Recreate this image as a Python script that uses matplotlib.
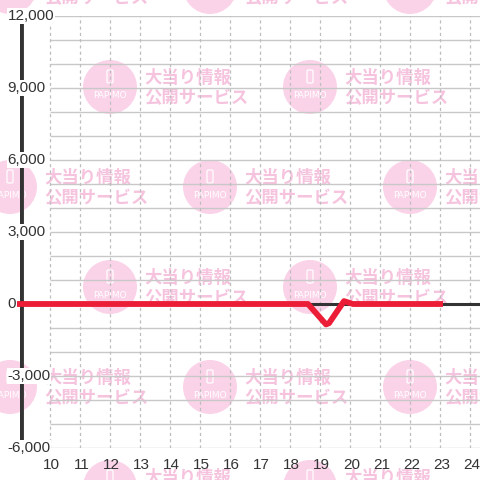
import matplotlib
matplotlib.use("Agg")
import matplotlib.pyplot as plt
from matplotlib.patches import Circle, FancyBboxPatch

plt.rcParams["font.family"] = ["Liberation Sans", "DejaVu Sans"]

# ── data ─────────────────────────────────────────────────────────────────────
game_x   = [8.9, 18.6, 19.2, 19.3, 19.8, 20.1, 23.1]
balance  = [0, 0, -850, -800, 120, 0, 0]
x_ticks  = list(range(10, 25))
y_ticks  = [-6000, -3000, 0, 3000, 6000, 9000, 12000]
y_grid   = list(range(-6000, 12001, 1000))

X_MIN, X_MAX = 9.0, 24.333
Y_MIN, Y_MAX = -6000, 12000

RED   = "#ec1d36"
DARK  = "#333333"
PINK  = "#fbd3e9"
PINKT = "#f6c3de"

fig = plt.figure(figsize=(4.8, 4.8), dpi=100)
fig.patch.set_facecolor("white")

# ── watermark layer (pixel coordinates) ──────────────────────────────────────
bg = fig.add_axes([0, 0, 1, 1], zorder=-1)
bg.set_xlim(0, 480)
bg.set_ylim(480, 0)
bg.axis("off")
for row, cy in enumerate(range(-13, 500, 100)):
    xs = [10, 210, 410] if row % 2 == 0 else [110, 310]
    for cx in xs:
        bg.add_patch(Circle((cx, cy), 27, color=PINK, lw=0))
        bg.add_patch(FancyBboxPatch((cx - 3, cy - 17), 6, 13,
                                    boxstyle="round,pad=0,rounding_size=1.5",
                                    fc="none", ec="white", lw=0.9))
        bg.text(cx, cy + 9, "PAPIMO", color="white", fontsize=6.5,
                ha="center", va="center", family="DejaVu Sans")
        bg.text(cx + 34, cy - 9, "大当り情報", color=PINKT, fontsize=12.5,
                weight="bold", ha="left", va="center",
                family=["Noto Sans CJK JP", "DejaVu Sans"])
        bg.text(cx + 34, cy + 11, "公開サービス", color=PINKT, fontsize=12.5,
                weight="bold", ha="left", va="center",
                family=["Noto Sans CJK JP", "DejaVu Sans"])

# ── chart ────────────────────────────────────────────────────────────────────
ax = fig.add_axes([20 / 480, 32 / 480, 460 / 480, 432 / 480])
ax.patch.set_alpha(0)
ax.set_xlim(X_MIN, X_MAX)
ax.set_ylim(Y_MIN, Y_MAX)
for s in ax.spines.values():
    s.set_visible(False)
ax.set_xticks([])
ax.set_yticks([])

ax.hlines(y_grid, x_ticks[0], X_MAX, color="#c8c8c8", lw=1, zorder=1)
ax.vlines(x_ticks, Y_MIN, Y_MAX, color="#bdbdbd", lw=0.9,
          linestyles=(0, (2.5, 2.5)), zorder=1)
ax.axhline(0, color=DARK, lw=2.2, zorder=2)
ax.axvline(X_MIN + 0.03, color=DARK, lw=3.5, zorder=2)

ax.plot(game_x, balance, color=RED, lw=4.2, solid_joinstyle="round",
        solid_capstyle="butt", zorder=4, clip_on=False)

for v in y_ticks:
    ax.text(X_MIN - 0.42, v, f"{v:,}", ha="left", va="center", fontsize=11,
            color=DARK, zorder=5,
            bbox=dict(fc="white", ec="none", pad=0.6))
for v in x_ticks:
    ax.text(v + 0.05, Y_MIN - 400, str(v), ha="center", va="top",
            fontsize=11, color=DARK, zorder=5)

fig.savefig("out.png", dpi=100)
